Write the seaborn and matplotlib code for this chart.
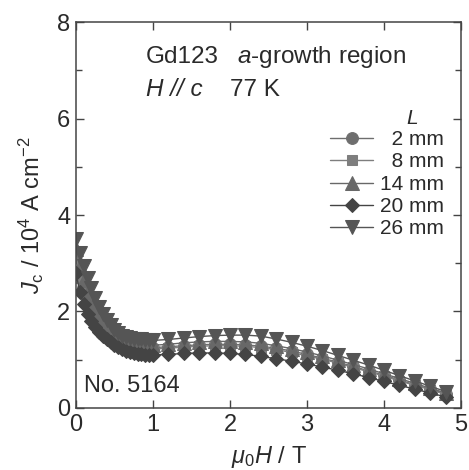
import matplotlib
matplotlib.use("Agg")
import matplotlib.pyplot as plt
import seaborn as sns
import pandas as pd

# Applied field (T)
field = [0.00, 0.05, 0.10, 0.15, 0.20, 0.25, 0.30, 0.35, 0.40, 0.45,
         0.50, 0.55, 0.60, 0.65, 0.70, 0.75, 0.80, 0.85, 0.90, 0.95,
         1.0, 1.2, 1.4, 1.6, 1.8, 2.0, 2.2, 2.4, 2.6, 2.8,
         3.0, 3.2, 3.4, 3.6, 3.8, 4.0, 4.2, 4.4, 4.6, 4.8]

# Critical current density (10^4 A cm^-2) for each distance L from the seed
jc_2mm = [3.20, 2.80, 2.50, 2.26, 2.07, 1.92, 1.79, 1.68, 1.58, 1.50,
          1.43, 1.38, 1.33, 1.30, 1.27, 1.25, 1.24, 1.23, 1.23, 1.24,
          1.25, 1.27, 1.29, 1.31, 1.32, 1.32, 1.31, 1.28, 1.24, 1.18,
          1.11, 1.03, 0.95, 0.86, 0.77, 0.68, 0.58, 0.48, 0.39, 0.29]
jc_8mm = [3.10, 2.70, 2.42, 2.20, 2.02, 1.87, 1.75, 1.64, 1.55, 1.47,
          1.40, 1.35, 1.30, 1.27, 1.24, 1.22, 1.21, 1.20, 1.20, 1.21,
          1.22, 1.24, 1.26, 1.28, 1.29, 1.29, 1.28, 1.25, 1.21, 1.15,
          1.08, 1.01, 0.93, 0.84, 0.75, 0.66, 0.56, 0.47, 0.38, 0.28]
jc_14mm = [3.30, 2.95, 2.65, 2.40, 2.20, 2.03, 1.88, 1.76, 1.65, 1.56,
           1.48, 1.42, 1.37, 1.33, 1.30, 1.29, 1.28, 1.28, 1.28, 1.29,
           1.30, 1.32, 1.35, 1.37, 1.38, 1.38, 1.37, 1.34, 1.29, 1.23,
           1.16, 1.08, 0.99, 0.90, 0.81, 0.71, 0.61, 0.51, 0.41, 0.31]
jc_20mm = [2.80, 2.40, 2.15, 1.95, 1.80, 1.68, 1.58, 1.50, 1.42, 1.36,
           1.30, 1.26, 1.22, 1.19, 1.16, 1.14, 1.12, 1.11, 1.10, 1.10,
           1.10, 1.11, 1.13, 1.14, 1.14, 1.13, 1.11, 1.07, 1.02, 0.97,
           0.91, 0.85, 0.78, 0.71, 0.63, 0.55, 0.47, 0.39, 0.31, 0.23]
jc_26mm = [3.50, 3.22, 2.95, 2.70, 2.48, 2.28, 2.10, 1.95, 1.82, 1.71,
           1.62, 1.55, 1.50, 1.47, 1.45, 1.44, 1.43, 1.42, 1.41, 1.40,
           1.40, 1.42, 1.45, 1.48, 1.50, 1.51, 1.51, 1.49, 1.43, 1.36,
           1.28, 1.19, 1.09, 0.99, 0.89, 0.78, 0.67, 0.56, 0.45, 0.34]

# Figure spaces keep the numbers right-aligned in the legend column
labels = ["\u20072 mm", "\u20078 mm", "14 mm", "20 mm", "26 mm"]
series = [jc_2mm, jc_8mm, jc_14mm, jc_20mm, jc_26mm]

markers = ["o", "s", "^", "D", "v"]
msizes = [8.5, 7.5, 10, 7.5, 10.5]
colors = ["#6e6e6e", "#7e7e7e", "#686868", "#444444", "#555555"]

sns.set_theme(style="ticks")
plt.rcParams["font.family"] = ["Liberation Sans", "DejaVu Sans"]
plt.rcParams["mathtext.fontset"] = "custom"
plt.rcParams["mathtext.rm"] = "Liberation Sans"
plt.rcParams["mathtext.it"] = "Liberation Sans:italic"
plt.rcParams["mathtext.bf"] = "Liberation Sans:bold"

txt = "#2a2a2a"
fig = plt.figure(figsize=(4.69, 4.70), dpi=100)
ax = fig.add_axes([0.162, 0.132, 0.821, 0.821])

for lab, vals, m, ms, c in zip(labels, series, markers, msizes, colors):
    df = pd.DataFrame({"H": field, "Jc": vals})
    sns.lineplot(data=df, x="H", y="Jc", ax=ax, marker=m, markersize=ms,
                 color=c, markeredgecolor=c, linewidth=1.0, label=lab)

ax.set_xlim(0, 5)
ax.set_ylim(0, 8)
ax.set_xticks([0, 1, 2, 3, 4, 5])
ax.set_yticks([0, 2, 4, 6, 8])
ax.set_yticks([1, 3, 5, 7], minor=True)
ax.tick_params(which="both", direction="in", top=True, right=True,
               colors="#444444", labelcolor=txt, labelsize=17, width=1.0)
ax.tick_params(which="major", length=6, pad=4)
ax.tick_params(which="minor", length=4)
for s in ax.spines.values():
    s.set_color("#444444")
    s.set_linewidth(1.1)

ax.set_xlabel(r"$\mu_0H$ / T", fontsize=17, color=txt, labelpad=6)
ax.set_ylabel(r"$J_\mathrm{c}$ / 10$^4$ A cm$^{-2}$", fontsize=17,
              color=txt, labelpad=8)

ax.text(0.91, 7.28, "Gd123", fontsize=17.5, color=txt, va="center")
ax.text(2.09, 7.28, r"$a$-growth region", fontsize=17.5, color=txt,
        va="center")
ax.text(0.91, 6.6, "H // c", fontsize=17.5, color=txt, va="center",
        style="italic")
ax.text(2.0, 6.6, "77 K", fontsize=17.5, color=txt, va="center")
ax.text(0.1, 0.45, "No. 5164", fontsize=17, color=txt, va="center")
ax.text(4.36, 6.0, "L", fontsize=15, color=txt, va="center", ha="center",
        style="italic")

leg = ax.legend(loc="upper right", bbox_to_anchor=(0.955, 0.72),
                frameon=False, fontsize=15, handlelength=2.1,
                handletextpad=0.3, labelspacing=0.16, borderaxespad=0.0,
                borderpad=0.0)
for t in leg.get_texts():
    t.set_color(txt)

fig.savefig("out.png", dpi=100)
